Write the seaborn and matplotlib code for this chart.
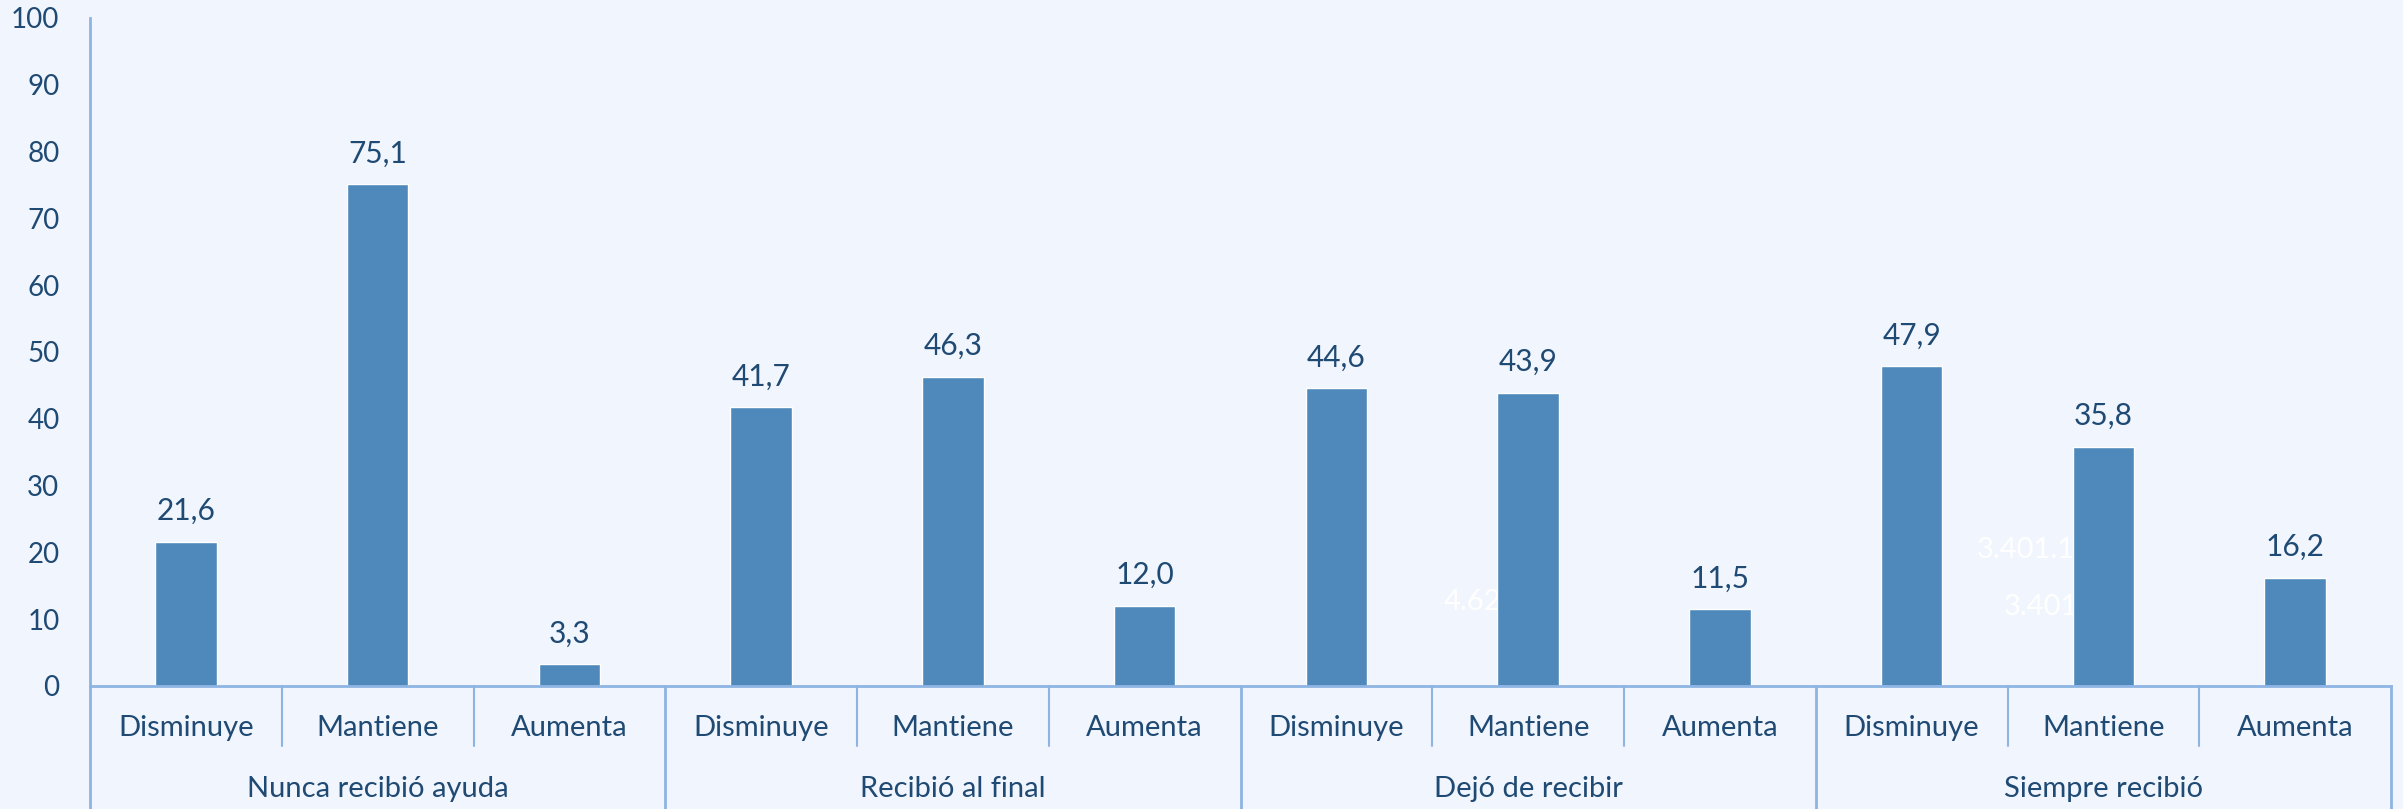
import pandas as pd
import matplotlib.pyplot as plt
import seaborn as sns

# data
groups = ["Nunca recibió ayuda", "Recibió al final", "Dejó de recibir", "Siempre recibió"]
changes = ["Disminuye", "Mantiene", "Aumenta"]
nunca = [21.6, 75.1, 3.3]
al_final = [41.7, 46.3, 12.0]
dejo = [44.6, 43.9, 11.5]
siempre = [47.9, 35.8, 16.2]
y_ticks = [0, 10, 20, 30, 40, 50, 60, 70, 80, 90, 100]

# stray white labels visible in the picture (x position, y value, text)
ghost_x = [6.56, 9.34, 9.48]
ghost_y = [12.6, 20.4, 11.8]
ghost_txt = ["4.62", "3.401.13", "3.401"]

BG = "#F1F5FD"
BAR = "#4F89BC"
TXT = "#1F4A73"
LINE = "#8EB4E3"


def main():
    values = nunca + al_final + dejo + siempre
    df = pd.DataFrame({
        "grupo": [g for g in groups for _ in changes],
        "cambio": changes * len(groups),
        "valor": values,
    })
    df["key"] = df["grupo"] + "|" + df["cambio"]

    sns.set_theme(style="white")
    plt.rcParams["font.family"] = ["Lato", "DejaVu Sans"]

    fig = plt.figure(figsize=(24.03, 8.09), dpi=100, facecolor=BG)
    W, H = 2403, 809
    ax = fig.add_axes([90 / W, (H - 686) / H, (2391 - 90) / W, (686 - 18) / H])
    ax.set_facecolor(BG)

    sns.barplot(data=df, x="key", y="valor", order=list(df["key"]),
                color=BAR, saturation=1, width=0.32, ax=ax)

    for p, v in zip(ax.patches, values):
        ax.annotate(f"{v:.1f}".replace(".", ","),
                    (p.get_x() + p.get_width() / 2, p.get_height()),
                    xytext=(0, 12), textcoords="offset points",
                    ha="center", va="bottom", fontsize=21.5, color=TXT)

    for gx, gy, gt in zip(ghost_x, ghost_y, ghost_txt):
        ax.text(gx, gy, gt, ha="left", va="center", fontsize=21,
                color="white", zorder=0.5)

    ax.set_xlim(-0.5, len(values) - 0.5)
    ax.set_ylim(0, 100)
    ax.set_yticks(y_ticks)
    ax.tick_params(axis="y", length=0, pad=22, labelsize=20, labelcolor=TXT)
    ax.set_xticks([])
    ax.set_xlabel("")
    ax.set_ylabel("")
    for s in ["top", "right"]:
        ax.spines[s].set_visible(False)
    for s in ["left", "bottom"]:
        ax.spines[s].set_color(LINE)
        ax.spines[s].set_linewidth(2)

    # two-level category axis drawn below the plot
    tr = ax.get_xaxis_transform()
    ax_h = 686 - 18
    y_inner = -(746 - 686) / ax_h
    y_outer = -(H - 686) / ax_h
    y_cat = -(728 - 686) / ax_h
    y_grp = -(789 - 686) / ax_h
    for i in range(len(values) + 1):
        bottom = y_outer if i % 3 == 0 else y_inner
        ax.plot([i - 0.5, i - 0.5], [0, bottom], transform=tr, color=LINE,
                lw=2 if i % 3 == 0 else 1.5, clip_on=False)
    for i, row in df.iterrows():
        ax.text(i, y_cat, row["cambio"], transform=tr, ha="center",
                va="center", fontsize=21, color=TXT)
    for j, g in enumerate(groups):
        ax.text(j * 3 + 1, y_grp, g, transform=tr, ha="center",
                va="center", fontsize=21, color=TXT)

    fig.savefig("out.png", dpi=100, facecolor=BG)


if __name__ == "__main__":
    main()
